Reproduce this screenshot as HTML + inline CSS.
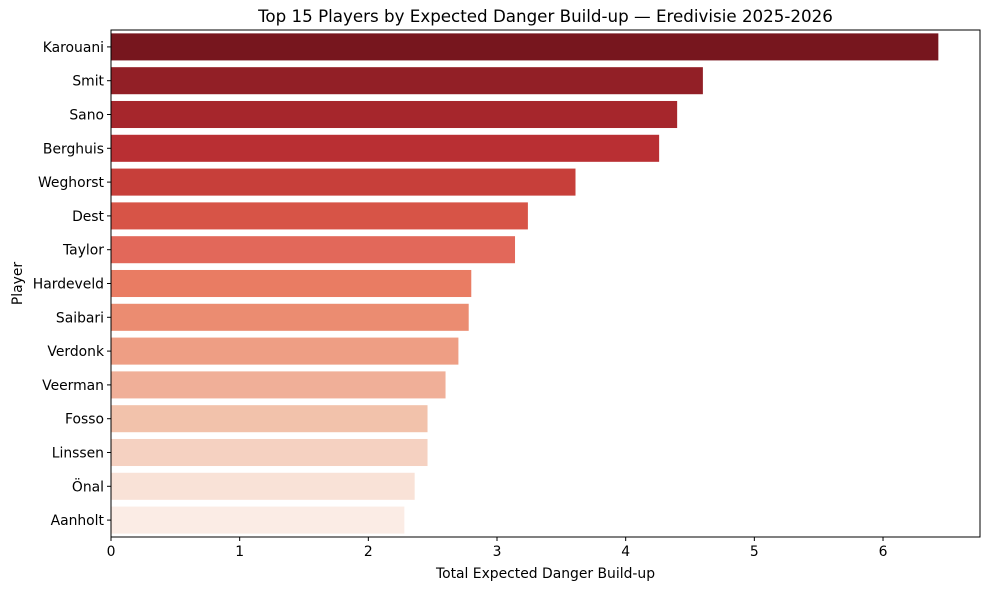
<!DOCTYPE html>
<html><head><meta charset="utf-8">
<style>
body{margin:0;background:#fff;font-family:"Liberation Sans","DejaVu Sans",sans-serif;}
svg text{font-family:"DejaVu Sans","Liberation Sans",sans-serif;fill:#000;}
</style></head>
<body>
<svg id="chart" width="989" height="590"></svg>
<script>
const players = ["Karouani","Smit","Sano","Berghuis","Weghorst","Dest","Taylor","Hardeveld","Saibari","Verdonk","Veerman","Fosso","Linssen","Önal","Aanholt"];
const values = [6.43,4.60,4.40,4.26,3.61,3.24,3.14,2.80,2.78,2.70,2.60,2.46,2.46,2.36,2.28];
const xTicks = [0,1,2,3,4,5,6];
const colors = ["#77161e","#921f26","#a6262c","#b92f33","#c73f3a","#d75447","#e2685a","#e97c63","#eb8c71","#ee9e84","#f0af98","#f2c2ab","#f5d1c1","#f9e2d7","#fbece5"];

const NS="http://www.w3.org/2000/svg";
const svg=document.getElementById('chart');
const L=111,R=980,T=30,B=537;
const xMax=(R-L)/128.67;
const x=v=>L+v/xMax*(R-L);
const band=(B-T)/players.length;
const y=i=>T+band*i;
function el(tag,attrs,parent){const e=document.createElementNS(NS,tag);for(const k in attrs)e.setAttribute(k,attrs[k]);(parent||svg).appendChild(e);return e;}

players.forEach((p,i)=>{
  const r=el('rect',{x:L,y:y(i)+band*0.1,width:x(values[i])-L,height:band*0.8,fill:colors[i]});
  
  
  el('line',{x1:L-4,x2:L,y1:y(i)+band/2,y2:y(i)+band/2,stroke:'#000','stroke-width':1});
  const lb=el('text',{x:L-7,y:y(i)+band/2+5,'text-anchor':'end','font-size':13.9});
  lb.textContent=p;
  
  
});
xTicks.forEach(v=>{
  el('line',{x1:x(v),x2:x(v),y1:B,y2:B+4,stroke:'#000','stroke-width':1});
  const t=el('text',{x:x(v),y:B+19,'text-anchor':'middle','font-size':13.9});
  t.textContent=v;
  
  
});
const frame=el('rect',{x:L,y:T,width:R-L,height:B-T,fill:'none',stroke:'#000','stroke-width':1});


const xt=el('text',{x:(L+R)/2,y:578,'text-anchor':'middle','font-size':13.9});
xt.textContent='Total Expected Danger Build-up';


const yt=el('text',{x:22,y:(T+B)/2,'text-anchor':'middle','font-size':13.9,transform:`rotate(-90 22 ${(T+B)/2})`});
yt.textContent='Player';


const tt=el('text',{x:(L+R)/2,y:22,'text-anchor':'middle','font-size':16.7});
tt.textContent='Top 15 Players by Expected Danger Build-up — Eredivisie 2025-2026';


</script>
</body></html>
